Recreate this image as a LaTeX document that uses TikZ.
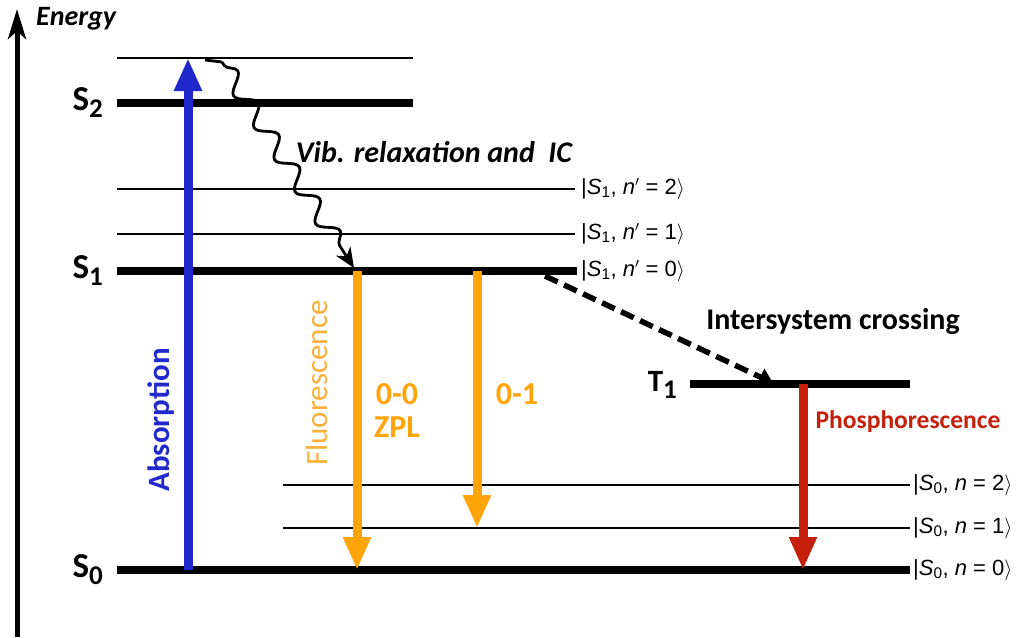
\documentclass[tikz,border=0pt]{standalone}
\usepackage{fontspec}
\setmainfont{Carlito}
\newfontfamily\hv{Liberation Sans}
\usetikzlibrary{arrows.meta,decorations.pathmorphing}
\definecolor{absblue}{HTML}{2229CC}
\definecolor{fluor}{HTML}{FFA50A}
\definecolor{fluorlab}{HTML}{FBB03B}
\definecolor{phos}{HTML}{C4200C}
\tikzset{
  thicklevel/.style={line width=8pt},
  thinlevel/.style={line width=2pt},
  ket/.style={anchor=west, inner sep=0pt, font=\hv\fontsize{22}{22}\selectfont},
  statelab/.style={anchor=base east, inner sep=0pt, font=\bfseries\fontsize{35}{35}\selectfont},
  bigarrow/.style={line width=9pt, -{Triangle[length=33pt,width=26pt]}},
  lab/.style={inner sep=0pt, font=\bfseries\fontsize{30}{30}\selectfont},
}
\newcommand{\sub}[1]{\raisebox{-7pt}{\fontsize{27}{27}\selectfont #1}}
\begin{document}
\begin{tikzpicture}[x=1pt,y=-1pt]
\useasboundingbox (0,0) rectangle (1016,637);
% energy axis
\coordinate (axb) at (17,637);
\coordinate (axt) at (17,9);
\draw[line width=5pt,-{Stealth[length=30pt,width=18pt,inset=8pt]}] (axb) -- (axt);
\node[anchor=base west,inner sep=0pt,font=\bfseries\itshape\fontsize{28}{28}\selectfont] (energy) at (36,25) {Energy};
% levels
\coordinate (s2vl) at (117,58);  \coordinate (s2vr) at (413,58);
\coordinate (s2l) at (117,103);  \coordinate (s2r) at (413,103);
\coordinate (s1bl) at (117,189); \coordinate (s1br) at (575,189);
\coordinate (s1al) at (117,234); \coordinate (s1ar) at (575,234);
\coordinate (s1l) at (117,271);  \coordinate (s1r) at (577,271);
\coordinate (t1l) at (690,384);  \coordinate (t1r) at (910,384);
\coordinate (s0bl) at (283,485); \coordinate (s0br) at (910,485);
\coordinate (s0al) at (283,528); \coordinate (s0ar) at (910,528);
\coordinate (s0l) at (117,570);  \coordinate (s0r) at (910,570);
\draw[thinlevel] (s2vl) -- (s2vr);
\draw[thicklevel] (s2l) -- (s2r);
\draw[thinlevel] (s1bl) -- (s1br);
\draw[thinlevel] (s1al) -- (s1ar);
\draw[thicklevel] (s1l) -- (s1r);
\draw[thicklevel] (t1l) -- (t1r);
\draw[thinlevel] (s0bl) -- (s0br);
\draw[thinlevel] (s0al) -- (s0ar);
\draw[thicklevel] (s0l) -- (s0r);
% state labels
\node[statelab] (S2) at (103,110) {S\sub{2}};
\node[statelab] (S1) at (103,278) {S\sub{1}};
\node[statelab] (S0) at (103,577) {S\sub{0}};
\node[statelab, font=\bfseries\fontsize{31}{31}\selectfont] (T1) at (677,391) {T\sub{1}};
% kets
\node[ket] (k12) at (581,189) {|\textit{S}\textsubscript{1}, \textit{n}$'$ = 2$\rangle$};
\node[ket] (k11) at (581,234) {|\textit{S}\textsubscript{1}, \textit{n}$'$ = 1$\rangle$};
\node[ket] (k10) at (581,271) {|\textit{S}\textsubscript{1}, \textit{n}$'$ = 0$\rangle$};
\node[ket] (k02) at (913,485) {|\textit{S}\textsubscript{0}, \textit{n} = 2$\rangle$};
\node[ket] (k01) at (913,528) {|\textit{S}\textsubscript{0}, \textit{n} = 1$\rangle$};
\node[ket] (k00) at (913,570) {|\textit{S}\textsubscript{0}, \textit{n} = 0$\rangle$};
% absorption
\coordinate (absb) at (188,570);
\coordinate (abst) at (188,58);
\draw[bigarrow, absblue] (absb) -- (abst);
\node[lab, absblue, font=\bfseries\fontsize{31}{31}\selectfont, rotate=90] (abs) at (161,420) {Absorption};
% fluorescence
\coordinate (f0t) at (357,271); \coordinate (f0b) at (357,570);
\coordinate (f1t) at (477,271); \coordinate (f1b) at (477,528);
\draw[bigarrow, fluor] (f0t) -- (f0b);
\draw[bigarrow, fluor] (f1t) -- (f1b);
\node[inner sep=0pt, font=\fontsize{31}{31}\selectfont, fluorlab, rotate=90] (fl) at (317,383) {Fluorescence};
\node[lab, fluor, font=\bfseries\fontsize{32}{32}\selectfont] (zz) at (397,394) {0-0};
\node[lab, fluor, font=\bfseries\fontsize{32}{32}\selectfont] (zpl) at (397,427) {ZPL};
\node[lab, fluor, font=\bfseries\fontsize{32}{32}\selectfont] (zo) at (517,394) {0-1};
% phosphorescence
\coordinate (pt) at (803,384); \coordinate (pb) at (803,570);
\draw[bigarrow, phos] (pt) -- (pb);
\node[lab, phos, font=\bfseries\fontsize{25.5}{25.5}\selectfont] (ph) at (908,422) {Phosphorescence};
% vibrational relaxation
\coordinate (vs) at (205,60);
\coordinate (vk) at (222,62);
\coordinate (ve) at (354,268);
\draw[line width=2.8pt, -{Stealth[length=20pt,width=17pt,inset=6pt]},
      decorate, decoration={snake, segment length=38pt, amplitude=8.5pt, pre length=4pt, post length=22pt}]
      (vk) -- (ve);
\draw[line width=2.8pt] (vs) -- (vk);
\node[lab, font=\bfseries\itshape\fontsize{30}{30}\selectfont] (vib) at (434,152) {Vib. relaxation and~ IC};
% intersystem crossing
\coordinate (is) at (545,276);
\coordinate (ie) at (773,383);
\draw[line width=5.5pt, dash pattern=on 14pt off 7pt, -{Triangle[length=14pt,width=18pt]}] (is) -- (ie);
\node[lab] (isc) at (833,322) {Intersystem crossing};
\end{tikzpicture}
\end{document}
